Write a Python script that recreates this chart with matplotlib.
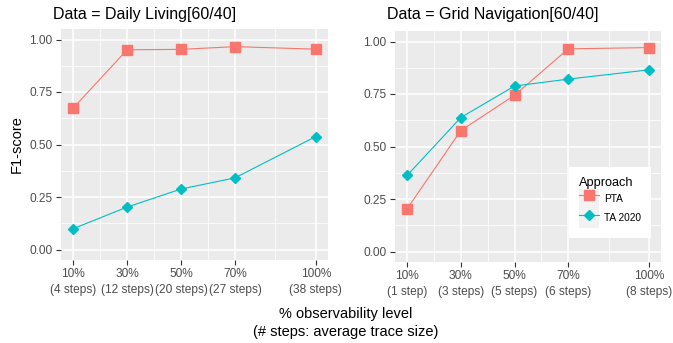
import numpy as np
import matplotlib
matplotlib.use("Agg")
import matplotlib.pyplot as plt
from matplotlib.patches import Rectangle
from matplotlib.legend_handler import HandlerLine2D

plt.rcParams['font.family'] = ['Liberation Sans', 'DejaVu Sans']

# observability levels
obs = [10, 30, 50, 70, 100]
dl_steps = ["(4 steps)", "(12 steps)", "(20 steps)", "(27 steps)", "(38 steps)"]
gn_steps = ["(1 step)", "(3 steps)", "(5 steps)", "(6 steps)", "(8 steps)"]

# F1-scores
dl_pta = [0.673, 0.951, 0.953, 0.966, 0.954]
dl_ta = [0.099, 0.202, 0.288, 0.341, 0.538]
gn_pta = [0.203, 0.576, 0.744, 0.965, 0.971]
gn_ta = [0.362, 0.638, 0.788, 0.821, 0.865]

PTA_COL = '#F8766D'
TA_COL = '#00BFC4'
W, H = 673, 343


class KeyHandler(HandlerLine2D):
    # ggplot style grey key background
    def create_artists(self, legend, orig_handle, xdescent, ydescent,
                       width, height, fontsize, trans):
        arts = super().create_artists(legend, orig_handle, xdescent, ydescent,
                                      width, height, fontsize, trans)
        bg = Rectangle((-xdescent, -ydescent), width, height,
                       facecolor='#F2F2F2', edgecolor='none', transform=trans)
        return [bg] + list(arts)


def panel(rect, pta, ta, steps, title):
    l, t, r, b = rect
    ax = fig.add_axes([l / W, 1 - b / H, (r - l) / W, (b - t) / H])
    ax.set_facecolor('#EBEBEB')
    for s in ax.spines.values():
        s.set_visible(False)
    ax.set_xlim(5.5, 104.5)
    ax.set_ylim(-0.05, 1.05)
    ax.set_xticks(obs)
    ax.set_xticklabels([f"{o}%\n{s}" for o, s in zip(obs, steps)],
                       linespacing=1.45)
    ax.set_yticks([0, 0.25, 0.5, 0.75, 1.0])
    ax.set_yticklabels(["0.00", "0.25", "0.50", "0.75", "1.00"])
    ax.set_xticks([20, 40, 60, 85], minor=True)
    ax.set_yticks([0.125, 0.375, 0.625, 0.875], minor=True)
    ax.grid(which='major', color='white', lw=1.1)
    ax.grid(which='minor', color='white', lw=0.55)
    ax.set_axisbelow(True)
    ax.tick_params(which='major', length=3.5, width=0.8, color='#333333',
                   labelcolor='#4D4D4D', labelsize=8.6, pad=2.5)
    ax.tick_params(which='minor', length=0)
    ax.plot(obs, pta, color=PTA_COL, lw=0.8, marker='s', ms=7.2,
            label='PTA', zorder=3)
    ax.plot(obs, ta, color=TA_COL, lw=0.8, marker='D', ms=5,
            label='TA 2020', zorder=3)
    fig.text((l - 8) / W, 1 - 15 / H, title, fontsize=11.5, va='center',
             ha='left', color='black')
    return ax


fig = plt.figure(figsize=(W / 100, H / 100), dpi=100)

ax1 = panel((61, 29, 328, 260), dl_pta, dl_ta, dl_steps,
            "Data = Daily Living[60/40]")
ax2 = panel((395, 31, 661, 262), gn_pta, gn_ta, gn_steps,
            "Data = Grid Navigation[60/40]")

ax1.set_ylabel("F1-score", fontsize=10.5, labelpad=4)

leg = ax2.legend(loc='upper left', bbox_to_anchor=(0.654, 0.411),
                 borderaxespad=0, title='Approach', fontsize=7.3,
                 title_fontsize=9.2, frameon=True, fancybox=False,
                 edgecolor='none', facecolor='white', framealpha=1,
                 handlelength=2.0, handleheight=2.6, labelspacing=0,
                 handletextpad=0.55, borderpad=0.95, alignment='left',
                 handler_map={plt.Line2D: KeyHandler()})

fig.text(346 / W, 1 - 314 / H, "% observability level", fontsize=10.5,
         ha='center', va='center')
fig.text(346 / W, 1 - 332 / H, "(# steps: average trace size)", fontsize=10.5,
         ha='center', va='center')

fig.savefig("out.png", dpi=100, facecolor='white')
